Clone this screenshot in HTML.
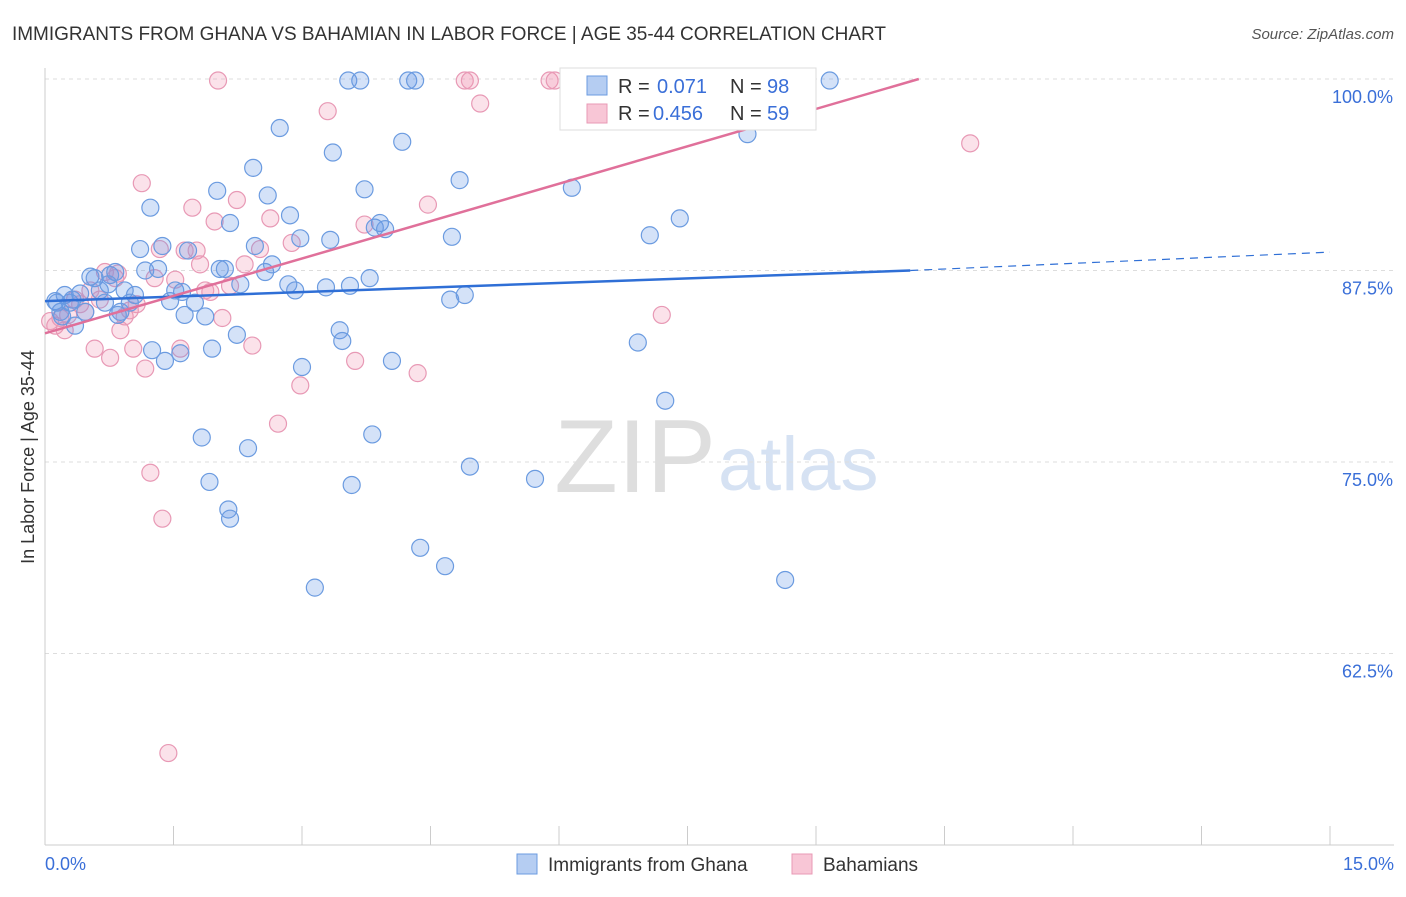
<!DOCTYPE html>
<html><head><meta charset="utf-8"><style>
body{margin:0;background:#fff;font-family:"Liberation Sans",sans-serif;}
svg text{font-family:"Liberation Sans",sans-serif;}
</style></head><body>
<svg id="chart" width="1406" height="892" xmlns="http://www.w3.org/2000/svg">
<text x="12" y="40" font-size="19" fill="#333" textLength="874">IMMIGRANTS FROM GHANA VS BAHAMIAN IN LABOR FORCE | AGE 35-44 CORRELATION CHART</text>
<text x="1394" y="39" font-size="15" fill="#555" font-style="italic" text-anchor="end">Source: ZipAtlas.com</text>
<text x="716" y="492" font-size="104" fill="#dedede" font-family="Liberation Serif" text-anchor="end">ZIP</text>
<text x="718" y="490" font-size="76" fill="#d6e2f3">atlas</text>
<g id="grid"></g>
<g id="axes"></g>
<g id="pink"></g>
<g id="blue"></g>
<g id="trend"></g>
<text transform="translate(34,457) rotate(-90)" font-size="18" fill="#333" text-anchor="middle">In Labor Force | Age 35-44</text>
<text x="45" y="870" font-size="18" fill="#3a6fd8">0.0%</text>
<text x="1394" y="870" font-size="18" fill="#3a6fd8" text-anchor="end">15.0%</text>
<g>
<rect x="560" y="68" width="256" height="62" fill="#fff" stroke="#ddd"/>
<rect x="587" y="76" width="20" height="19" fill="#b5cdf2" stroke="#6b9be0"/>
<rect x="587" y="104" width="20" height="19" fill="#f8c6d6" stroke="#e899b5"/>
<text x="618" y="93" font-size="20" fill="#333">R =</text>
<text x="657" y="93" font-size="20" fill="#3a6fd8">0.071</text>
<text x="730" y="93" font-size="20" fill="#333">N =</text>
<text x="767" y="93" font-size="20" fill="#3a6fd8">98</text>
<text x="618" y="120" font-size="20" fill="#333">R =</text>
<text x="653" y="120" font-size="20" fill="#3a6fd8">0.456</text>
<text x="730" y="120" font-size="20" fill="#333">N =</text>
<text x="767" y="120" font-size="20" fill="#3a6fd8">59</text>
</g>
<g>
<rect x="517" y="854" width="20" height="20" fill="#b5cdf2" stroke="#6b9be0"/>
<text x="548" y="871" font-size="19" fill="#333">Immigrants from Ghana</text>
<rect x="792" y="854" width="20" height="20" fill="#f8c6d6" stroke="#e899b5"/>
<text x="823" y="871" font-size="19" fill="#333">Bahamians</text>
</g>
</svg>
<script>
const yTicks=[100,87.5,75,62.5];
const yTickLabels=["100.0%","87.5%","75.0%","62.5%"];
const xTicks=[0,1.5,3,4.5,6,7.5,9,10.5,12,13.5,15];
const blueTrend=[85.5,87.5,88.7];
const pinkTrend=[83.4,100];
const blueX=[0.12,0.18,0.23,0.29,0.35,0.41,0.53,0.58,0.64,0.7,0.76,0.82,0.88,0.93,0.99,1.05,1.11,1.17,1.23,1.25,1.32,1.37,1.4,1.46,1.52,1.58,1.6,1.63,1.67,1.75,1.87,1.95,2.01,2.04,2.1,2.16,2.24,2.28,2.43,2.45,2.57,2.6,2.65,2.74,2.84,2.86,2.92,3.0,2.98,3.28,3.33,3.36,3.44,3.47,3.56,3.73,3.79,3.85,3.91,3.97,4.05,4.17,4.24,4.32,4.38,4.67,4.73,4.75,4.84,4.9,4.96,5.72,6.15,6.92,7.06,7.24,7.41,8.2,8.64,9.16,3.54,3.68,3.15,3.58,3.82,1.83,1.92,2.14,2.16,2.37,0.14,0.2,0.32,0.47,0.85,0.74];
const blueY=[85.5,84.8,85.9,85.4,83.9,86.0,87.1,87.0,86.2,85.4,87.2,87.4,84.8,86.2,85.4,85.9,88.9,87.5,91.6,82.3,87.6,89.1,81.6,85.5,86.2,82.1,86.1,84.6,88.8,85.4,84.5,82.4,92.7,87.6,87.6,90.6,83.3,86.6,94.2,89.1,87.4,92.4,87.9,96.8,86.6,91.1,86.2,81.2,89.6,86.4,89.5,95.2,83.6,82.9,86.5,92.8,87.0,90.3,90.6,90.2,81.6,95.9,99.9,99.9,69.4,68.2,85.6,89.7,93.4,85.9,74.7,73.9,92.9,82.8,89.8,79.0,90.9,96.4,67.3,99.9,99.9,99.9,66.8,73.5,76.8,76.6,73.7,71.9,71.3,75.9,85.4,84.5,85.6,84.8,84.6,86.6];
const pinkX=[0.06,0.12,0.18,0.27,0.35,0.41,0.47,0.58,0.64,0.7,0.76,0.82,0.85,0.88,0.93,1.03,1.07,1.13,1.17,1.23,1.28,1.34,1.37,1.44,1.52,1.58,1.63,1.72,1.77,1.81,1.87,1.93,1.98,2.02,2.07,2.16,2.24,2.33,2.42,2.51,2.63,2.72,2.88,2.98,3.3,3.73,3.62,4.35,4.47,4.9,4.96,5.08,5.89,5.95,7.2,10.8,0.53,0.23,0.99];
const pinkY=[84.2,83.9,84.4,84.6,85.6,85.3,84.8,82.4,85.6,87.4,81.8,87.0,87.3,83.6,84.5,82.4,85.3,93.2,81.1,74.3,87.0,88.9,71.3,56.0,86.9,82.4,88.8,91.6,88.8,87.9,86.2,86.1,90.7,99.9,84.4,86.5,92.1,87.9,82.6,88.9,90.9,77.5,89.3,80.0,97.9,90.5,81.6,80.8,91.8,99.9,99.9,98.4,99.9,99.9,84.6,95.8,86.2,83.6,84.9];
const NS="http://www.w3.org/2000/svg";
const X=v=>45+v*(1285/15);
const Y=v=>79+(100-v)*(191.5/12.5);
function mk(tag,attrs,parent){const e=document.createElementNS(NS,tag);for(const k in attrs)e.setAttribute(k,attrs[k]);document.getElementById(parent).appendChild(e);return e;}
yTicks.forEach((t,i)=>{
 const l=mk('line',{x1:45,x2:1394,y1:Y(t),y2:Y(t),stroke:'#ddd','stroke-dasharray':'4,4'},'grid');
 
 
 const tx=mk('text',{x:1393,y:Y(t)+24,'font-size':18,fill:'#3a6fd8','text-anchor':'end'},'grid');
 tx.textContent=yTickLabels[i];
 
 
});
const ax=mk('line',{x1:45,x2:45,y1:68,y2:845,stroke:'#ccc'},'axes');


const bx=mk('line',{x1:45,x2:1394,y1:845,y2:845,stroke:'#ccc'},'axes');


xTicks.forEach(t=>{
 const l=mk('line',{x1:X(t),x2:X(t),y1:826,y2:845,stroke:'#ccc'},'axes');
 
 
});
pinkX.forEach((x,i)=>{
 const c=mk('circle',{cx:X(x),cy:Y(pinkY[i]),r:8.5,fill:'rgba(240,150,180,0.28)',stroke:'#e899b5','stroke-width':1.2},'pink');
 
 
});
blueX.forEach((x,i)=>{
 const c=mk('circle',{cx:X(x),cy:Y(blueY[i]),r:8.5,fill:'rgba(100,150,230,0.28)',stroke:'#6b9be0','stroke-width':1.2},'blue');
 
 
});
let t1=mk('line',{x1:X(0),y1:Y(blueTrend[0]),x2:X(10.1),y2:Y(blueTrend[1]),stroke:'#2f6fd6','stroke-width':2.5},'trend');


let t2=mk('line',{x1:X(10.1),y1:Y(blueTrend[1]),x2:X(15),y2:Y(blueTrend[2]),stroke:'#2f6fd6','stroke-width':1.2,'stroke-dasharray':'8,6'},'trend');


let t3=mk('line',{x1:X(0),y1:Y(pinkTrend[0]),x2:X(10.2),y2:Y(pinkTrend[1]),stroke:'#e0709a','stroke-width':2.5},'trend');


</script>
</body></html>
